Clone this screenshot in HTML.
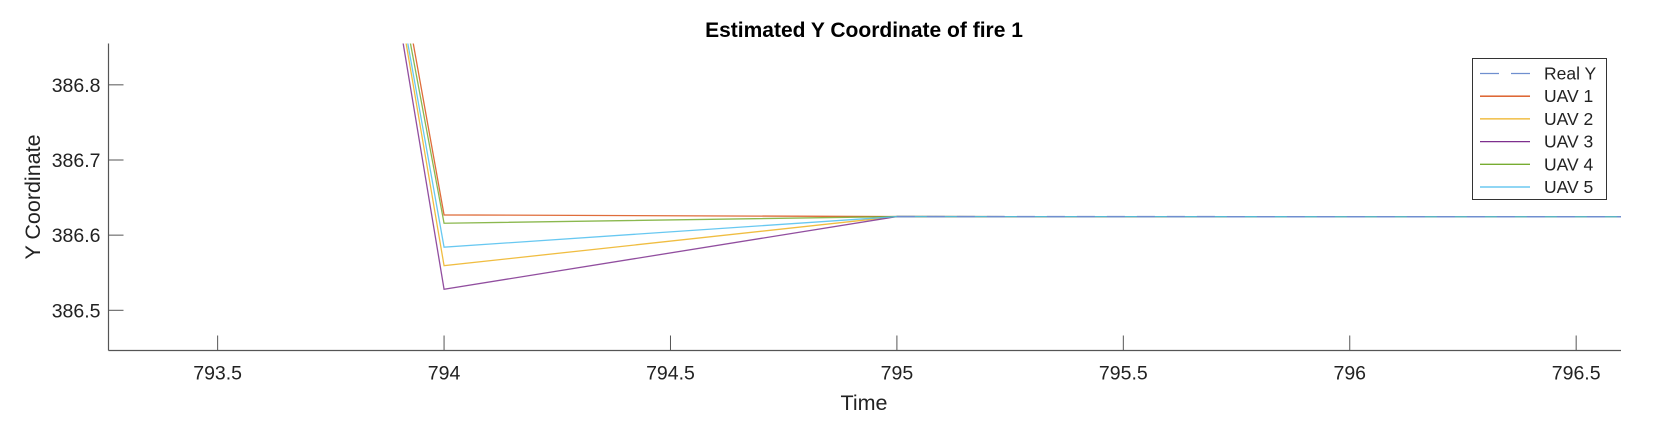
<!DOCTYPE html>
<html><head><meta charset="utf-8"><style>
body{margin:0;background:#fff;width:1664px;height:424px;overflow:hidden;font-family:"Liberation Sans",Arial,sans-serif}
</style></head><body>
<svg id="chart" width="1664" height="424" xmlns="http://www.w3.org/2000/svg" font-family="Liberation Sans, Arial, sans-serif">
<defs><clipPath id="plotclip"><rect x="108.5" y="43.5" width="1512.5" height="307"/></clipPath></defs>
<rect width="1664" height="424" fill="#fff"/>
<text x="864" y="37" text-anchor="middle" font-size="21" font-weight="bold" fill="#000">Estimated Y Coordinate of fire 1</text>
<g id="axes"></g>
<g id="series" clip-path="url(#plotclip)"></g>
<text x="864" y="410" text-anchor="middle" font-size="21.5" fill="#222">Time</text>
<text transform="translate(40,197) rotate(-90)" text-anchor="middle" font-size="21.5" fill="#222">Y Coordinate</text>
<g id="legend"></g>
</svg>
<script>
const times = [793, 794, 795, 796, 797];
const realTimes = [795, 796, 797];
const realY = [386.6247, 386.6245, 386.6245];
const uav1 = [389.98, 386.6269, 386.6247, 386.6245, 386.6245];
const uav2 = [390.09, 386.5594, 386.6247, 386.6245, 386.6245];
const uav3 = [390.15, 386.528, 386.6247, 386.6245, 386.6245];
const uav4 = [389.84, 386.6158, 386.6247, 386.6245, 386.6245];
const uav5 = [389.97, 386.584, 386.6247, 386.6245, 386.6245];
const xTicks = [793.5, 794, 794.5, 795, 795.5, 796, 796.5];
const yTicks = [386.5, 386.6, 386.7, 386.8];
const seriesNames = ["Real Y", "UAV 1", "UAV 2", "UAV 3", "UAV 4", "UAV 5"];

const X0=108.5, X1=1621, Y0=43.5, Y1=350.5;
const xmin=793.259, xmax=796.599, ymin=386.4465, ymax=386.855;
const sx = v => X0 + (v - xmin) / (xmax - xmin) * (X1 - X0);
const sy = v => Y1 - (v - ymin) / (ymax - ymin) * (Y1 - Y0);
const NS = "http://www.w3.org/2000/svg";
function mk(tag, attrs, parent){const e=document.createElementNS(NS,tag);for(const k in attrs)e.setAttribute(k,attrs[k]);parent.appendChild(e);return e;}

const axes=document.getElementById('axes');
let a=mk('line',{x1:X0,y1:Y0,x2:X0,y2:Y1,stroke:'#555','stroke-width':1.2},axes);


a=mk('line',{x1:X0,y1:Y1,x2:X1,y2:Y1,stroke:'#555','stroke-width':1.2},axes);


xTicks.forEach(t=>{
  const x=sx(t);
  const l=mk('line',{x1:x,y1:Y1,x2:x,y2:Y1-15,stroke:'#555','stroke-width':1},axes);
  
  
  const tx=mk('text',{x:x,y:Y1+29,'text-anchor':'middle','font-size':19.5,fill:'#222'},axes);
  tx.textContent=String(t);
  
  
});
yTicks.forEach(t=>{
  const y=sy(t);
  const l=mk('line',{x1:X0,y1:y,x2:X0+15,y2:y,stroke:'#555','stroke-width':1},axes);
  
  
  const tx=mk('text',{x:X0-8,y:y+7,'text-anchor':'end','font-size':19.5,fill:'#222'},axes);
  tx.textContent=t.toFixed(1);
  
  
});

const colors=['#6f8fcf','#D95319','#EDB120','#7E2F8E','#77AC30','#4DBEEE'];
const g=document.getElementById('series');
function path(xs,ys){return xs.map((t,i)=>(i?'L':'M')+sx(t).toFixed(2)+','+sy(ys[i]).toFixed(2)).join(' ');}
const data=[uav1,uav2,uav3,uav4,uav5];
const names=['uav-1-line','uav-2-line','uav-3-line','uav-4-line','uav-5-line'];
data.forEach((d,i)=>{
  const p=mk('path',{d:path(times,d),fill:'none',stroke:colors[i+1],'stroke-width':1.3,'stroke-opacity':0.85},g);
  
  
});
const rp=mk('path',{d:path(realTimes,realY),fill:'none',stroke:colors[0],'stroke-width':1.5,'stroke-dasharray':'18 12'},g);



const lg=document.getElementById('legend');
const box=mk('rect',{x:1472.5,y:58.5,width:134,height:141,fill:'#fff',stroke:'#333','stroke-width':1},lg);


seriesNames.forEach((n,i)=>{
  const y=73.5+i*22.7;
  const attrs={x1:1480,y1:y,x2:1530,y2:y,stroke:colors[i],'stroke-width':1.3};
  if(i===0)attrs['stroke-dasharray']='19 12';
  const l=mk('line',attrs,lg);
  
  
  const t=mk('text',{x:1544,y:y+6,'font-size':17.5,fill:'#222'},lg);
  t.textContent=n;
  
  
});
</script>
</body></html>
